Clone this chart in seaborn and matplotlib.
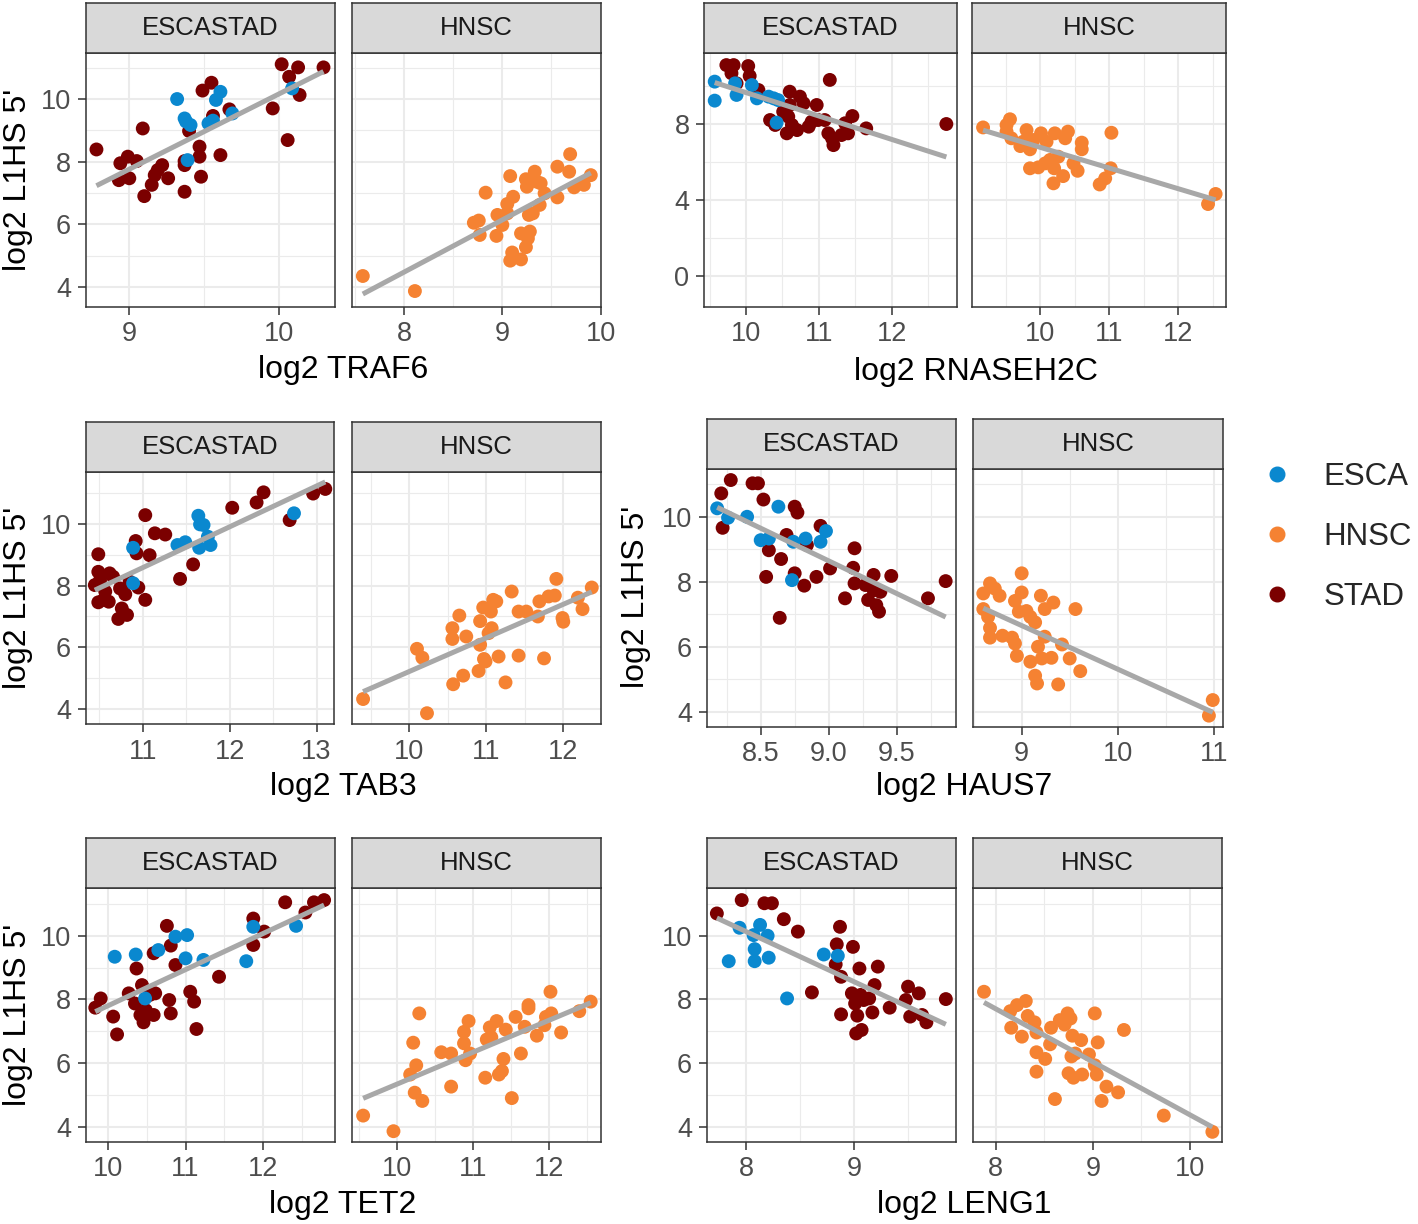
import numpy as np
import pandas as pd
import matplotlib
matplotlib.use("Agg")
import matplotlib.pyplot as plt
import seaborn as sns
from matplotlib.ticker import MultipleLocator, FormatStrFormatter
from matplotlib.lines import Line2D

# ---------------- data ----------------
traf6_stad_x = [8.78, 8.94, 8.93, 8.99, 9.00, 9.05, 9.09, 9.10, 9.15, 9.17, 9.19, 9.22, 9.26, 9.37, 9.37, 9.37,
                9.40, 9.47, 9.47, 9.48, 9.49, 9.55, 9.56, 9.61, 9.67, 9.96, 10.02, 10.06, 10.07, 10.13, 10.14, 10.30]
traf6_stad_y = [8.39, 7.95, 7.41, 8.16, 7.47, 8.02, 9.06, 6.90, 7.26, 7.57, 7.73, 7.89, 7.47, 8.02, 7.89, 7.04,
                8.98, 8.48, 8.16, 7.52, 10.27, 10.52, 9.46, 8.21, 9.67, 9.70, 11.11, 8.69, 10.71, 11.01, 10.13, 11.01]
traf6_esca_x = [9.32, 9.37, 9.38, 9.41, 9.39, 9.53, 9.56, 9.58, 9.61, 9.69, 10.09]
traf6_esca_y = [10.00, 9.38, 9.28, 9.17, 8.05, 9.22, 9.31, 9.97, 10.23, 9.54, 10.34]
traf6_hnsc_x = [7.58, 8.11, 8.71, 8.76, 8.77, 8.83, 8.94, 8.95, 9.00, 9.05, 9.05, 9.08, 9.11, 9.08, 9.10, 9.19,
                9.19, 9.24, 9.26, 9.28, 9.27, 9.31, 9.24, 9.25, 9.33, 9.35, 9.39, 9.38, 9.43, 9.56, 9.56, 9.69,
                9.68, 9.73, 9.83, 9.90]
traf6_hnsc_y = [4.35, 3.87, 6.05, 6.12, 5.66, 7.01, 5.63, 6.30, 5.98, 6.35, 6.65, 7.54, 6.88, 4.84, 5.10, 4.88,
                5.71, 5.27, 5.55, 5.77, 6.30, 6.35, 7.44, 7.20, 7.68, 7.36, 7.31, 6.62, 6.99, 7.84, 6.86, 8.24,
                7.68, 7.18, 7.26, 7.57]

rnaseh2c_esca_x = [9.57, 9.57, 9.85, 9.87, 10.08, 10.15, 10.31, 10.44, 10.42, 10.38]
rnaseh2c_esca_y = [10.23, 9.23, 10.14, 9.53, 10.05, 9.35, 9.44, 9.26, 8.07, 9.35]
rnaseh2c_stad_x = [9.73, 9.83, 9.80, 9.87, 10.03, 10.05, 10.17, 10.33, 10.40, 10.51, 10.56, 10.58, 10.60, 10.60,
                   10.63, 10.70, 10.74, 10.79, 10.86, 10.90, 10.97, 10.99, 11.08, 11.13, 11.18, 11.20, 11.15,
                   11.31, 11.36, 11.40, 11.46, 11.65, 12.75]
rnaseh2c_stad_y = [11.10, 11.10, 10.67, 10.14, 11.05, 10.53, 9.79, 8.21, 7.95, 8.65, 7.51, 8.39, 9.70, 9.00,
                   7.95, 7.68, 9.44, 9.09, 7.86, 8.12, 9.00, 8.21, 8.21, 7.51, 7.25, 6.89, 10.32,
                   7.42, 8.04, 7.51, 8.42, 7.77, 8.00]
rnaseh2c_hnsc_x = [9.17, 9.51, 9.56, 9.51, 9.58, 9.71, 9.80, 9.75, 9.85, 9.90, 10.01, 10.09, 10.07, 9.85, 9.97,
                   10.14, 10.21, 10.26, 10.20, 10.19, 10.33, 10.36, 10.40, 10.48, 10.54, 10.60, 10.60, 10.86,
                   10.94, 11.03, 11.02, 12.43, 12.54]
rnaseh2c_hnsc_y = [7.82, 7.95, 8.25, 7.60, 7.25, 6.84, 7.68, 7.07, 6.67, 7.16, 7.51, 7.07, 5.93, 5.67, 5.72,
                   6.11, 7.51, 6.28, 5.67, 4.88, 5.26, 7.25, 7.60, 5.93, 5.54, 7.02, 6.67, 4.82,
                   5.14, 7.54, 5.67, 3.79, 4.32]

tab3_stad_x = [10.49, 10.45, 10.49, 10.51, 10.49, 10.55, 10.57, 10.61, 10.62, 10.66, 10.72, 10.74, 10.76, 10.80,
               10.82, 10.85, 10.92, 10.93, 10.95, 11.03, 11.03, 11.08, 11.14, 11.26, 11.43, 11.58, 12.03, 12.31,
               12.39, 12.69, 12.96, 13.10]
tab3_stad_y = [9.02, 8.02, 8.45, 8.18, 7.46, 7.54, 7.81, 7.48, 8.40, 8.29, 6.92, 7.91, 7.26, 7.72,
               7.05, 8.13, 9.45, 9.05, 7.94, 10.29, 7.54, 8.99, 9.70, 9.66, 8.22, 8.69, 10.53, 10.70,
               11.03, 10.13, 10.99, 11.14]
tab3_esca_x = [10.89, 10.89, 11.40, 11.49, 11.64, 11.66, 11.70, 11.65, 11.75, 11.78, 12.74]
tab3_esca_y = [9.23, 8.08, 9.32, 9.41, 10.27, 9.99, 9.97, 9.23, 9.59, 9.32, 10.35]
tab3_hnsc_x = [9.40, 10.23, 10.10, 10.17, 10.57, 10.70, 10.90, 10.56, 10.56, 10.65, 10.74, 10.92, 10.92, 10.96,
               10.97, 10.99, 11.03, 11.07, 11.09, 11.13, 11.06, 11.16, 11.25, 11.33, 11.42, 11.42, 11.52, 11.67,
               11.69, 11.75, 11.81, 11.89, 11.91, 11.99, 12.00, 12.19, 12.25, 12.37]
tab3_hnsc_y = [4.32, 3.86, 5.95, 5.66, 4.80, 5.08, 5.23, 6.62, 6.27, 7.03, 6.35, 6.85, 6.08, 7.29,
               5.62, 5.54, 6.46, 6.62, 7.54, 7.49, 7.16, 5.70, 4.86, 7.81, 7.16, 5.73, 7.16, 7.00,
               7.49, 5.64, 7.65, 7.68, 8.22, 6.95, 6.83, 7.61, 7.24, 7.94]

haus7_stad_x = [8.21, 8.28, 8.22, 8.44, 8.48, 8.52, 8.56, 8.54, 8.65, 8.64, 8.69, 8.75, 8.77, 8.75, 8.82, 8.84,
                8.91, 8.94, 9.01, 9.12, 9.19, 9.18, 9.19, 9.27, 9.29, 9.33, 9.33, 9.35, 9.37, 9.38, 9.46, 9.73, 9.86]
haus7_stad_y = [10.72, 11.13, 9.66, 11.03, 11.03, 10.53, 8.97, 8.15, 8.70, 6.89, 9.44, 10.31, 10.13, 8.26, 7.88,
                9.13, 8.15, 9.72, 8.41, 7.49, 9.03, 8.43, 7.95, 7.90, 7.44, 8.21, 7.74, 7.28, 7.08, 7.69, 8.18,
                7.49, 8.02]
haus7_esca_x = [8.18, 8.26, 8.40, 8.50, 8.56, 8.63, 8.73, 8.74, 8.83, 8.94, 8.98]
haus7_esca_y = [10.26, 9.97, 10.00, 9.28, 9.33, 10.31, 8.05, 9.23, 9.33, 9.23, 9.56]
haus7_hnsc_x = [8.60, 8.60, 8.67, 8.72, 8.77, 8.65, 8.67, 8.67, 8.80, 8.90, 8.93, 8.95, 8.93, 9.00, 9.00, 8.97,
                9.05, 9.09, 9.14, 9.20, 9.24, 9.33, 9.24, 9.17, 9.09, 9.14, 9.16, 9.21, 9.31, 9.42, 9.38, 9.50,
                9.56, 9.61, 10.95, 10.99]
haus7_hnsc_y = [7.16, 7.64, 7.95, 7.79, 7.57, 6.92, 6.58, 6.28, 6.34, 6.28, 6.10, 5.72, 7.41, 8.26, 7.67, 7.08,
                7.10, 6.92, 6.75, 7.57, 7.16, 7.36, 6.31, 6.00, 5.54, 5.11, 4.87, 5.64, 5.66, 6.07, 4.84, 5.64,
                7.16, 5.25, 3.88, 4.36]

tet2_stad_x = [9.84, 9.91, 10.07, 10.12, 10.27, 10.35, 10.37, 10.42, 10.44, 10.46, 10.49, 10.54, 10.59, 10.59,
               10.61, 10.76, 10.79, 10.81, 10.81, 10.87, 11.06, 11.11, 11.14, 11.43, 11.87, 11.87, 12.01, 12.28,
               12.54, 12.65, 12.78]
tet2_stad_y = [7.74, 8.03, 7.46, 6.90, 8.19, 7.87, 8.97, 7.51, 8.45, 7.28, 7.66, 8.14, 7.51, 9.45,
               8.19, 10.31, 7.98, 7.56, 9.69, 9.08, 8.24, 7.93, 7.07, 8.71, 10.54, 9.71, 10.13, 11.05,
               10.73, 11.05, 11.12]
tet2_esca_x = [10.09, 10.36, 10.48, 10.65, 10.87, 11.02, 11.00, 11.23, 11.78, 11.87, 12.42]
tet2_esca_y = [9.34, 9.41, 8.03, 9.55, 9.97, 10.02, 9.29, 9.24, 9.20, 10.28, 10.31]
tet2_hnsc_x = [9.55, 9.95, 10.17, 10.23, 10.33, 10.25, 10.21, 10.29, 10.58, 10.71, 10.71, 10.88, 10.88, 10.94,
               10.90, 10.96, 11.16, 11.18, 11.22, 11.24, 11.31, 11.34, 11.38, 11.40, 11.43, 11.51, 11.56, 11.63,
               11.68, 11.73, 11.73, 11.84, 11.94, 11.96, 12.03, 12.02, 12.16, 12.40, 12.55]
tet2_hnsc_y = [4.35, 3.86, 5.64, 5.07, 4.81, 5.93, 6.64, 7.56, 6.34, 6.30, 5.26, 6.62, 6.98, 7.32,
               6.09, 6.30, 5.54, 6.74, 7.12, 6.81, 7.32, 5.64, 5.75, 6.13, 7.05, 4.90, 7.45, 6.30,
               7.14, 7.72, 7.82, 6.86, 7.19, 7.45, 7.56, 8.24, 6.96, 7.63, 7.93]

leng1_stad_x = [7.73, 7.96, 8.17, 8.24, 8.35, 8.48, 8.61, 8.84, 8.87, 8.83, 8.88, 8.88, 8.99, 8.98, 9.01, 9.03,
                9.02, 9.07, 9.05, 9.06, 9.09, 9.14, 9.17, 9.19, 9.22, 9.33, 9.48, 9.50, 9.52, 9.60, 9.63, 9.67, 9.85]
leng1_stad_y = [10.70, 11.12, 11.02, 11.02, 10.52, 10.13, 8.22, 9.73, 10.28, 9.10, 8.71, 7.53, 9.65, 8.19, 7.87,
                7.49, 6.93, 7.04, 8.97, 8.14, 7.98, 8.03, 7.59, 8.45, 9.03, 7.74, 7.98, 8.40, 7.46, 8.19, 7.51,
                7.28, 8.01]
leng1_esca_x = [7.84, 7.94, 8.08, 8.08, 8.13, 8.07, 8.21, 8.20, 8.38, 8.72, 8.85]
leng1_esca_y = [9.20, 10.25, 9.58, 9.20, 10.34, 10.02, 9.31, 10.00, 8.03, 9.41, 9.37]
leng1_hnsc_x = [7.88, 8.15, 8.22, 8.31, 8.16, 8.27, 8.33, 8.40, 8.42, 8.42, 8.51, 8.42, 8.56, 8.57, 8.66, 8.71,
                8.74, 8.77, 8.61, 8.79, 8.88, 8.78, 8.82, 8.75, 8.80, 8.89, 8.96, 9.02, 9.05, 9.02, 9.04, 9.14,
                9.26, 9.09, 9.32, 9.73, 10.23]
leng1_hnsc_y = [8.24, 7.63, 7.82, 7.95, 7.11, 6.83, 7.48, 7.28, 6.96, 6.34, 6.13, 5.73, 6.59, 7.11, 7.35, 7.21,
                7.56, 7.40, 4.87, 6.86, 6.72, 6.21, 6.30, 5.68, 5.54, 5.64, 6.27, 7.56, 6.65, 5.93, 5.64, 5.26,
                5.08, 4.81, 7.04, 4.35, 3.84]

cancer_types = ["ESCA", "HNSC", "STAD"]
facet_names = ["ESCASTAD", "HNSC"]
palette = {"ESCA": "#0A88CF", "HNSC": "#F58232", "STAD": "#7B0000"}

W, H = 1418, 1224


def box(x0, y0, x1, y1):
    return [x0 / W, 1 - y1 / H, (x1 - x0) / W, (y1 - y0) / H]


def frame(**groups):
    parts = [pd.DataFrame({"x": v[0], "y": v[1], "type": k}) for k, v in groups.items()]
    return pd.concat(parts, ignore_index=True)


panels = [
    dict(gene="TRAF6",
         esc=frame(STAD=(traf6_stad_x, traf6_stad_y), ESCA=(traf6_esca_x, traf6_esca_y)),
         hn=frame(HNSC=(traf6_hnsc_x, traf6_hnsc_y)),
         px=(85.7, 335, 352.3, 601), py=(53.3, 306.7), ylim=(3.37, 11.46), ystep=2,
         xlims=[(8.708, 10.377), (7.473, 10.004)], xsteps=[1, 1], xfmt=["%g", "%g"],
         xlab=(343, 370), ylab=(18, 180)),
    dict(gene="RNASEH2C",
         esc=frame(STAD=(rnaseh2c_stad_x, rnaseh2c_stad_y), ESCA=(rnaseh2c_esca_x, rnaseh2c_esca_y)),
         hn=frame(HNSC=(rnaseh2c_hnsc_x, rnaseh2c_hnsc_y)),
         px=(704, 956.7, 972.3, 1225.7), py=(53.3, 306.7), ylim=(-1.61, 11.72), ystep=4,
         xlims=[(9.423, 12.892), (9.014, 12.686)], xsteps=[1, 1], xfmt=["%g", "%g"],
         xlab=(976, 372), ylab=None),
    dict(gene="TAB3",
         esc=frame(STAD=(tab3_stad_x, tab3_stad_y), ESCA=(tab3_esca_x, tab3_esca_y)),
         hn=frame(HNSC=(tab3_hnsc_x, tab3_hnsc_y)),
         px=(85.7, 334, 352.3, 601), py=(471.7, 724.3), ylim=(3.50, 11.70), ystep=2,
         xlims=[(10.345, 13.20), (9.26, 12.49)], xsteps=[1, 1], xfmt=["%g", "%g"],
         xlab=(343, 787), ylab=(18, 598)),
    dict(gene="HAUS7",
         esc=frame(STAD=(haus7_stad_x, haus7_stad_y), ESCA=(haus7_esca_x, haus7_esca_y)),
         hn=frame(HNSC=(haus7_hnsc_x, haus7_hnsc_y)),
         px=(706.7, 956, 973.3, 1223.3), py=(469, 726.7), ylim=(3.54, 11.47), ystep=2,
         xlims=[(8.103, 9.936), (8.496, 11.10)], xsteps=[0.5, 1], xfmt=["%.1f", "%g"],
         xlab=(964, 787), ylab=(636, 597)),
    dict(gene="TET2",
         esc=frame(STAD=(tet2_stad_x, tet2_stad_y), ESCA=(tet2_esca_x, tet2_esca_y)),
         hn=frame(HNSC=(tet2_hnsc_x, tet2_hnsc_y)),
         px=(85.7, 335, 352.3, 601), py=(888.3, 1141.7), ylim=(3.53, 11.49), ystep=2,
         xlims=[(9.717, 12.92), (9.407, 12.686)], xsteps=[1, 1], xfmt=["%g", "%g"],
         xlab=(343, 1205), ylab=(18, 1015)),
    dict(gene="LENG1",
         esc=frame(STAD=(leng1_stad_x, leng1_stad_y), ESCA=(leng1_esca_x, leng1_esca_y)),
         hn=frame(HNSC=(leng1_hnsc_x, leng1_hnsc_y)),
         px=(706.7, 956, 973.3, 1221.7), py=(888.3, 1141.7), ylim=(3.53, 11.49), ystep=2,
         xlims=[(7.636, 9.944), (7.77, 10.326)], xsteps=[1, 1], xfmt=["%g", "%g"],
         xlab=(964, 1205), ylab=None),
]

sns.set_theme(style="white")
plt.rcParams["font.family"] = ["Liberation Sans", "DejaVu Sans"]

BORDER = "#333333"
GRID = "#EBEBEB"
STRIP_H = 50

fig = plt.figure(figsize=(W / 100, H / 100), dpi=100)


def draw_facet(ax, df, xlim, ylim, xstep, ystep, xfmt, show_y):
    sns.scatterplot(data=df, x="x", y="y", hue="type", palette=palette, s=100,
                    linewidth=0, legend=False, ax=ax, zorder=2)
    sns.regplot(data=df, x="x", y="y", scatter=False, ci=None, color="#A8A8A8", ax=ax,
                line_kws={"lw": 3.6, "zorder": 3, "solid_capstyle": "butt"})
    ax.set_xlim(*xlim)
    ax.set_ylim(*ylim)
    ax.set_xlabel("")
    ax.set_ylabel("")
    ax.xaxis.set_major_locator(MultipleLocator(xstep))
    ax.xaxis.set_minor_locator(MultipleLocator(xstep / 2))
    ax.yaxis.set_major_locator(MultipleLocator(ystep))
    ax.yaxis.set_minor_locator(MultipleLocator(ystep / 2))
    ax.xaxis.set_major_formatter(FormatStrFormatter(xfmt))
    ax.yaxis.set_major_formatter(FormatStrFormatter("%g"))
    ax.set_facecolor("white")
    ax.set_axisbelow(True)
    ax.grid(which="major", color=GRID, lw=1.5)
    ax.grid(which="minor", color=GRID, lw=0.8)
    for sp in ax.spines.values():
        sp.set_color(BORDER)
        sp.set_linewidth(1.1)
    ax.tick_params(which="major", length=5.5, width=1.1, color=BORDER, labelsize=19.5,
                   labelcolor="#4D4D4D", bottom=True, left=True)
    ax.tick_params(axis="x", which="major", pad=5)
    ax.tick_params(axis="y", which="major", pad=5)
    ax.tick_params(which="minor", length=0)
    if not show_y:
        ax.tick_params(axis="y", which="both", length=0, labelleft=False)


for p in panels:
    x0a, x1a, x0b, x1b = p["px"]
    y0, y1 = p["py"]
    for i, (xa, xb, df) in enumerate([(x0a, x1a, p["esc"]), (x0b, x1b, p["hn"])]):
        ax = fig.add_axes(box(xa, y0, xb, y1))
        draw_facet(ax, df, p["xlims"][i], p["ylim"], p["xsteps"][i], p["ystep"],
                   p["xfmt"][i], show_y=(i == 0))
        sax = fig.add_axes(box(xa, y0 - STRIP_H, xb, y0))
        sax.set_facecolor("#D9D9D9")
        sax.set_xticks([])
        sax.set_yticks([])
        for sp in sax.spines.values():
            sp.set_color(BORDER)
            sp.set_linewidth(1.1)
        sax.text(0.5, 0.5, facet_names[i], ha="center", va="center",
                 fontsize=18.5, color="#1A1A1A", transform=sax.transAxes)
    fig.text(p["xlab"][0] / W, 1 - p["xlab"][1] / H, "log2 " + p["gene"],
             ha="center", va="center", fontsize=23, color="black")
    if p["ylab"] is not None:
        fig.text(p["ylab"][0] / W, 1 - p["ylab"][1] / H, "log2 L1HS 5'", rotation=90,
                 ha="center", va="center", fontsize=23, color="black")

handles = [Line2D([], [], marker="o", ls="", color=palette[t], markersize=10.5) for t in cancer_types]
fig.legend(handles, cancer_types, loc="center left", bbox_to_anchor=(1261 / W, 1 - 537 / H),
           frameon=False, fontsize=22.5, handletextpad=1.0, labelspacing=0.95,
           borderpad=0, borderaxespad=0, handlelength=1.0)

fig.savefig("out.png", dpi=100)
